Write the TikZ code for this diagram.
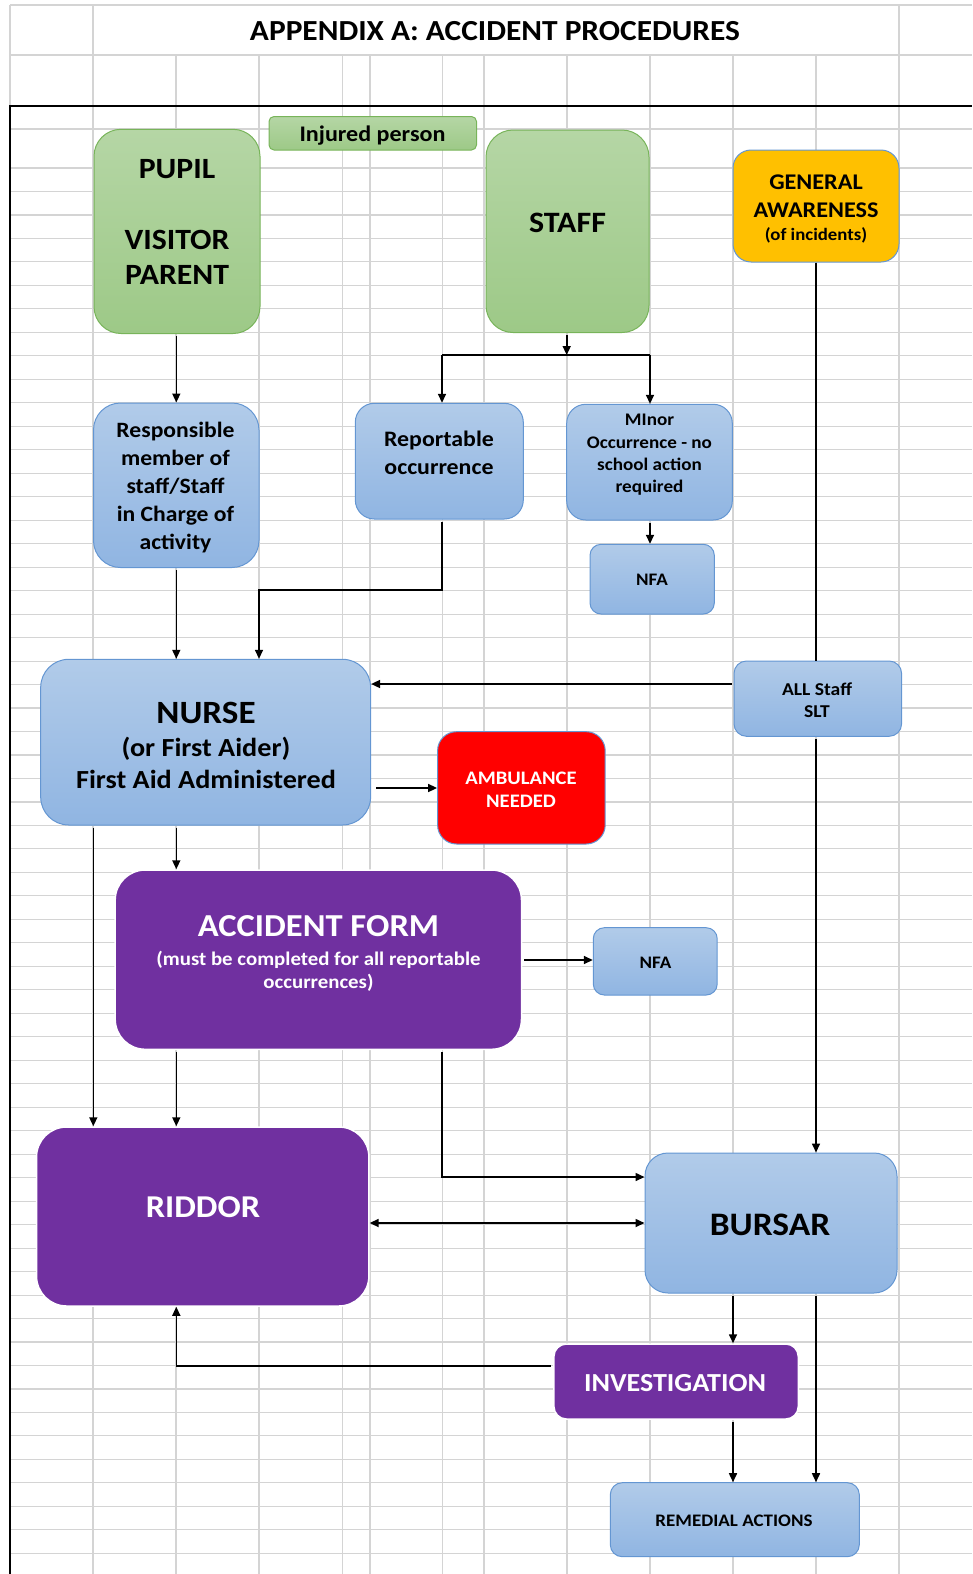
\documentclass[tikz,border=0pt]{standalone}
\usepackage{fontspec}
\setmainfont{Carlito}[FakeStretch=1.08]
\usetikzlibrary{arrows.meta}
\definecolor{gridc}{RGB}{212,212,212}
\definecolor{bluetop}{RGB}{177,203,233}
\definecolor{bluebot}{RGB}{144,181,226}
\definecolor{bluebd}{RGB}{100,150,210}
\definecolor{greentop}{RGB}{181,214,165}
\definecolor{greenbot}{RGB}{157,201,135}
\definecolor{greenbd}{RGB}{120,180,90}
\definecolor{orangef}{RGB}{255,192,0}
\definecolor{redf}{RGB}{255,0,0}
\definecolor{purplef}{RGB}{112,48,160}
\newcommand{\fz}[2]{\fontsize{#1}{#2}\selectfont}
\begin{document}
\begin{tikzpicture}[x=1pt,y=-1pt,
  gridline/.style={draw=gridc, line width=1.1pt},
  box/.style={rectangle, inner sep=0pt, line width=1pt},
  bluebox/.style={box, draw=bluebd, top color=bluetop, bottom color=bluebot},
  greenbox/.style={box, draw=greenbd, top color=greentop, bottom color=greenbot},
  orangebox/.style={box, draw=bluebd, fill=orangef},
  redbox/.style={box, draw=bluebd, fill=redf},
  purplebox/.style={box, draw=white, line width=1.5pt, fill=purplef},
  txt/.style={inner sep=0pt, align=center, font=\bfseries},
  wtxt/.style={txt, text=white},
  conn/.style={line width=1.6pt},
  arr/.style={conn, shorten <=2pt, -{Triangle[length=9pt,width=8pt]}},
  darr/.style={conn, {Triangle[length=9pt,width=8pt]}-{Triangle[length=9pt,width=8pt]}}
]
\useasboundingbox (0,0) rectangle (972,1574);
% ---- spreadsheet grid ----
\draw[gridline] (10,5) -- (972,5);
\draw[gridline] (10,55) -- (972,55);
\draw[gridline] (10,129) -- (972,129);
\foreach \k in {0,...,59} \draw[gridline] (10,{168+23.48*\k}) -- (972,{168+23.48*\k});
\draw[gridline] (10,5) -- (10,106);
\draw[gridline] (93,5) -- (93,1574);
\draw[gridline] (899,5) -- (899,1574);
\foreach \xx in {176,259,342.5,370,442.5,484,567,650,733,816} \draw[gridline] (\xx,55) -- (\xx,1574);
\draw[line width=2.2pt] (10,1574) -- (10,106) -- (972,106);
% ---- title ----
\node[txt, font=\bfseries\fz{29.1}{34}] (title) at (495,31) {APPENDIX A: ACCIDENT PROCEDURES};
% ---- boxes ----
\node[greenbox, rounded corners=5pt, minimum width=207.5pt, minimum height=33.5pt] (injured) at (372.75,133.25) {};
\node[greenbox, rounded corners=27pt, minimum width=166pt, minimum height=204.2pt] (pupil) at (177,231.4) {};
\node[greenbox, rounded corners=27pt, minimum width=163pt, minimum height=202.5pt] (staff) at (567.5,231.25) {};
\node[orangebox, rounded corners=18pt, minimum width=166pt, minimum height=112pt] (general) at (816,206) {};
\node[bluebox, rounded corners=27pt, minimum width=165.5pt, minimum height=164.5pt] (resp) at (176.25,485.25) {};
\node[bluebox, rounded corners=19pt, minimum width=168pt, minimum height=115.7pt] (report) at (439.3,461.15) {};
\node[bluebox, rounded corners=19pt, minimum width=165.6pt, minimum height=115.7pt] (minor) at (649.5,462.15) {};
\node[bluebox, rounded corners=11pt, minimum width=124.3pt, minimum height=69.7pt] (nfa1) at (652.15,579.15) {};
\node[bluebox, rounded corners=28pt, minimum width=329.9pt, minimum height=165.7pt] (nurse) at (205.65,742.15) {};
\node[redbox, rounded corners=19pt, minimum width=167.6pt, minimum height=112.3pt] (amb) at (521.4,787.85) {};
\node[bluebox, rounded corners=12.5pt, minimum width=167.6pt, minimum height=75.3pt] (allstaff) at (817.8,698.65) {};
\node[purplebox, rounded corners=30pt, minimum width=406.3pt, minimum height=179.3pt] (accform) at (318.35,959.65) {};
\node[bluebox, rounded corners=11pt, minimum width=123.9pt, minimum height=67.3pt] (nfa2) at (655.25,961.35) {};
\node[purplebox, rounded corners=30pt, minimum width=332.4pt, minimum height=179pt] (riddor) at (202.7,1216.5) {};
\node[bluebox, rounded corners=23pt, minimum width=252pt, minimum height=140pt] (bursar) at (771,1223) {};
\node[purplebox, rounded corners=12.5pt, minimum width=244.4pt, minimum height=75pt] (invest) at (676.1,1381.5) {};
\node[bluebox, rounded corners=12pt, minimum width=249pt, minimum height=74pt] (remedial) at (734.8,1519.7) {};
% ---- texts ----
\node[txt, font=\bfseries\fz{22.3}{26}] (tinjured) at (372.5,136) {Injured person};
\node[txt, font=\bfseries\fz{29.4}{35}] (tpupil) at (177,221.5) {PUPIL\\[36pt]VISITOR\\PARENT};
\node[txt, font=\bfseries\fz{29.6}{34}] (tstaff) at (567.5,223) {STAFF};
\node[txt, font=\bfseries\fz{22.4}{28}] (tgeneral) at (816,196.5) {GENERAL\\AWARENESS};
\node[txt, font=\bfseries\fz{17.4}{20}] (tgeneralsub) at (816,235) {(of incidents)};
\node[txt, font=\bfseries\fz{21.9}{28}] (tresp) at (175.5,487.5) {Responsible\\member of\\staff/Staff\\in Charge of\\activity};
\node[txt, font=\bfseries\fz{22.1}{28}] (treport) at (439,453) {Reportable\\occurrence};
\node[txt, font=\bfseries\fz{17.7}{22.3}] (tminor) at (649.5,455) {MInor\\Occurrence - no\\school action\\required};
\node[txt, font=\bfseries\fz{17.6}{20}] (tnfa1) at (652,580) {NFA};
\node[txt, font=\bfseries\fz{32.5}{36}] (tnurse) at (206,713) {NURSE};
\node[txt, font=\bfseries\fz{26.1}{32}] (tnursesub) at (206,763) {(or First Aider)\\First Aid Administered};
\node[wtxt, font=\bfseries\fz{19.1}{23}] (tamb) at (521,789.5) {AMBULANCE\\NEEDED};
\node[txt, font=\bfseries\fz{18.1}{22}] (tallstaff) at (817,700) {ALL Staff\\SLT};
\node[wtxt, font=\bfseries\fz{32}{36}] (taccform) at (318.5,926) {ACCIDENT FORM};
\node[wtxt, font=\bfseries\fz{19.3}{23}] (taccformsub) at (318.5,971) {(must be completed for all reportable\\occurrences)};
\node[txt, font=\bfseries\fz{17.6}{20}] (tnfa2) at (655.5,962.5) {NFA};
\node[wtxt, font=\bfseries\fz{31.8}{36}] (triddor) at (203,1207) {RIDDOR};
\node[txt, font=\bfseries\fz{32.8}{36}] (tbursar) at (770,1225) {BURSAR};
\node[wtxt, font=\bfseries\fz{26}{30}] (tinvest) at (675,1383) {INVESTIGATION};
\node[txt, font=\bfseries\fz{17.6}{21}] (tremedial) at (734,1521) {REMEDIAL ACTIONS};
% ---- helper coordinates ----
\coordinate (cx93) at (93.3,0);
\coordinate (cx176) at (176.3,0);
\coordinate (cx259) at (259,0);
\coordinate (cx442) at (442,0);
\coordinate (cx567) at (566.7,0);
\coordinate (cx650) at (650,0);
\coordinate (cx733) at (733,0);
\coordinate (cx816) at (816,0);
\coordinate (cy355) at (0,355);
\coordinate (cy590) at (0,590);
\coordinate (cy684) at (0,684);
\coordinate (cy788) at (0,788);
\coordinate (cy960) at (0,960);
\coordinate (cy1177) at (0,1177);
\coordinate (cy1223) at (0,1223);
\coordinate (cy1366) at (0,1366);
% ---- connectors ----
\draw[arr] (pupil.south -| cx176) -- (resp.north -| cx176);
\draw[arr] (staff.south -| cx567) -- (cx567 |- cy355);
\draw[conn] (cx442 |- cy355) -- (cx650 |- cy355);
\draw[arr, shorten <=0pt] (cx442 |- cy355) -- (report.north -| cx442);
\draw[arr, shorten <=0pt] (cx650 |- cy355) -- (minor.north -| cx650);
\draw[arr] (minor.south -| cx650) -- (nfa1.north -| cx650);
\draw[arr] (resp.south -| cx176) -- (nurse.north -| cx176);
\draw[arr] (report.south -| cx442) -- (cx442 |- cy590) -- (cx259 |- cy590) -- (nurse.north -| cx259);
\draw[conn] (general.south -| cx816) -- (allstaff.north -| cx816);
\draw[arr] (allstaff.west |- cy684) -- (nurse.east |- cy684);
\draw[arr] (allstaff.south -| cx816) -- (bursar.north -| cx816);
\draw[arr, shorten <=5pt] (nurse.east |- cy788) -- (amb.west |- cy788);
\draw[arr] (nurse.south -| cx176) -- (accform.north -| cx176);
\draw[arr] (nurse.south -| cx93) -- (riddor.north -| cx93);
\draw[arr] (accform.east |- cy960) -- (nfa2.west |- cy960);
\draw[arr] (accform.south -| cx176) -- (riddor.north -| cx176);
\draw[arr] (accform.south -| cx442) -- (cx442 |- cy1177) -- (bursar.west |- cy1177);
\draw[darr] (riddor.east |- cy1223) -- (bursar.west |- cy1223);
\draw[arr] (bursar.south -| cx733) -- (invest.north -| cx733);
\draw[arr] (invest.west |- cy1366) -- (cx176 |- cy1366) -- (riddor.south -| cx176);
\draw[arr] (invest.south -| cx733) -- (remedial.north -| cx733);
\draw[arr] (bursar.south -| cx816) -- (remedial.north -| cx816);
\end{tikzpicture}
\end{document}
